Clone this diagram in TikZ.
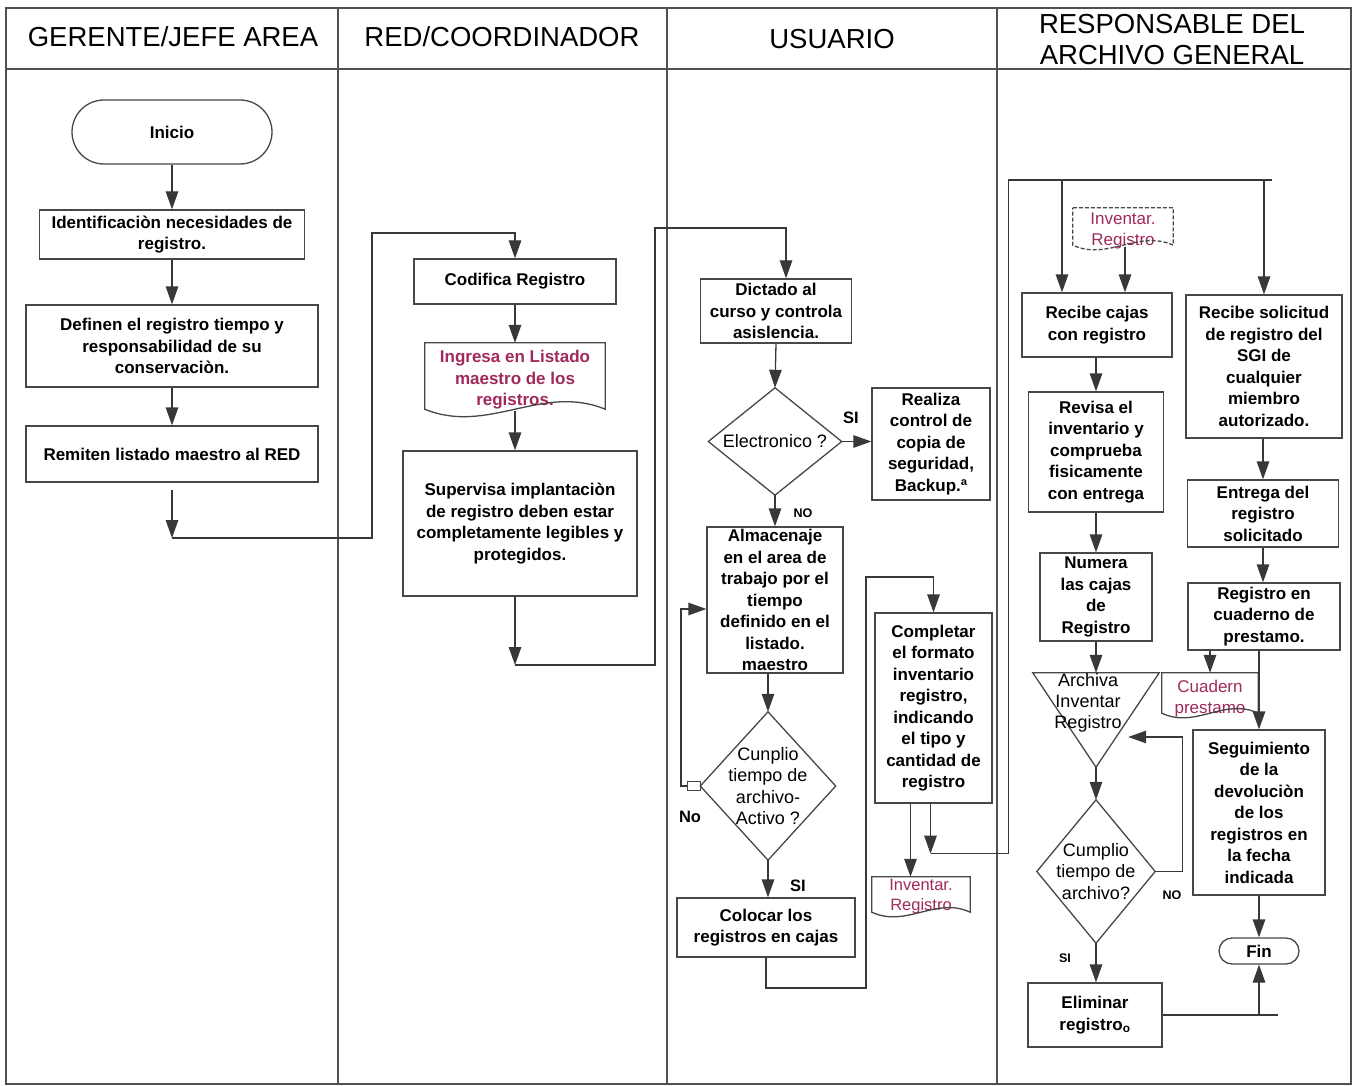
\documentclass[tikz,border=0pt]{standalone}
\usepackage{fontspec}
\setmainfont{Liberation Sans}
\usetikzlibrary{arrows.meta,calc}
\definecolor{docred}{RGB}{160,42,92}
\definecolor{framegray}{RGB}{80,80,80}
\newcommand\flowhead{\fontsize{27.5}{31}\selectfont}
\newcommand\flowbody{\fontsize{17}{21.5}\selectfont\bfseries}
\newcommand\flowdia{\fontsize{18}{21.3}\selectfont}
\newcommand\flowdoc{\fontsize{17}{21}\selectfont}
\newcommand\flowdocsmall{\fontsize{16.5}{20}\selectfont}
\newcommand\flowlbl{\fontsize{16.5}{18}\selectfont\bfseries}
\newcommand\flowlblsm{\fontsize{12.5}{14}\selectfont\bfseries}
% document symbol: flat top, wavy bottom (#3 = lift of the wave, #4 = wave amplitude)
\newcommand\wavedoc[4][]{%
  \draw[boxline,#1] (#2.north west) -- (#2.north east)
    -- ($(#2.south east)+(0,-#3)$)
    .. controls ($(#2.south west)!0.65!(#2.south east)+(0,-#3-#4)$)
           and ($(#2.south west)!0.35!(#2.south east)+(0,-#3+#4)$)
    .. ($(#2.south west)+(0,-#3)$) -- cycle;}
% decision symbol drawn through the four anchors of a node
\newcommand\flowdiamond[1]{%
  \draw[boxline] (#1.north) -- (#1.east) -- (#1.south) -- (#1.west) -- cycle;}
\begin{document}
\begin{tikzpicture}[x=1pt,y=-1pt,
  lane/.style={draw=framegray,line width=1.4pt},
  boxline/.style={draw=black!72,line width=1.3pt},
  flowbox/.style n args={2}{boxline,rectangle,inner sep=0pt,align=center,
    font=\flowbody,minimum width=#1pt,minimum height=#2pt},
  startstop/.style n args={3}{flowbox={#1}{#2},rounded corners=#3pt},
  hollow/.style n args={2}{rectangle,inner sep=0pt,align=center,
    minimum width=#1pt,minimum height=#2pt},
  wire/.style={draw=black!78,line width=1.3pt},
  arr/.style={wire,-{Triangle[length=18pt,width=12.5pt]}},
  lbl/.style={font=\flowlbl,inner sep=0pt},
  lblsm/.style={font=\flowlblsm,inner sep=0pt}]

\fill[white] (0,0) rectangle (1355,1086);
\useasboundingbox (0,0) rectangle (1355,1086);

% swimlanes
\draw[lane] (6,8) rectangle (1351,1084);
\draw[lane] (6,69) -- (1351,69);
\foreach \xx in {338,667,997} \draw[lane] (\xx,8) -- (\xx,1084);

\node[font=\flowhead] (h1) at (173,37) {GERENTE/JEFE AREA};
\node[font=\flowhead] (h2) at (502,37) {RED/COORDINADOR};
\node[font=\flowhead] (h3) at (832,39) {USUARIO};
\node[font=\flowhead,align=center] (h4) at (1172,39.5) {RESPONSABLE DEL\\ARCHIVO GENERAL};

% ---------- GERENTE/JEFE AREA
\node[startstop={200}{64}{32}] (inicio) at (172,132) {Inicio};
\node[flowbox={265}{49}] (ident) at (172,234.5) {Identificaciòn necesidades de\\registro.};
\node[flowbox={292}{82}] (definen) at (172,346) {Definen el registro tiempo y\\responsabilidad de su\\conservaciòn.};
\node[flowbox={292}{56}] (remiten) at (172,454) {Remiten listado maestro al RED};
\coordinate (k1) at (172,538);

% ---------- RED/COORDINADOR
\node[flowbox={202}{45}] (codifica) at (515,281.5) {Codifica Registro};
\node[hollow={180}{74},font=\flowbody,text=docred] (ingresa) at (515,380) {Ingresa en Listado\\maestro de los\\registros.};
\wavedoc{ingresa}{8}{26}
\node[flowbox={234}{145}] (supervisa) at (520,523.5) {Supervisa implantaciòn\\de registro deben estar\\completamente legibles y\\protegidos.};
\coordinate (k2) at (515,665);

% ---------- USUARIO
\node[flowbox={151}{64}] (dictado) at (776,311) {Dictado al\\curso y controla\\asislencia.};
\node[hollow={133}{107},font=\flowdia] (elec) at (775,441.5) {Electronico ?};
\flowdiamond{elec}
\node[flowbox={118}{112}] (realiza) at (931,444) {Realiza\\control de\\copia de\\seguridad,\\Backup.ª};
\node[flowbox={136}{146}] (alm) at (775,600) {Almacenaje\\en el area de\\trabajo por el\\tiempo\\definido en el\\listado.\\maestro};
\node[hollow={135}{148},font=\flowdia] (cump1) at (768,786) {Cunplio\\tiempo de\\archivo-\\Activo ?};
\flowdiamond{cump1}
\node[boxline,rectangle,inner sep=0pt,minimum width=13pt,minimum height=9pt] (knot) at (694,786) {};
\node[flowbox={178}{59}] (colocar) at (766,927.5) {Colocar los\\registros en cajas};
\node[flowbox={117}{190}] (completar) at (933.5,708) {Completar\\el formato\\inventario\\registro,\\indicando\\el tipo y\\cantidad de\\registro};
\node[hollow={98}{40},font=\flowdocsmall,text=docred] (inv1) at (921,897) {Inventar.\\Registro};
\wavedoc{inv1}{5}{16}
\coordinate (loopTop) at (681,609);
\coordinate (k4) at (866,988);
\coordinate (k5) at (866,577);

% ---------- RESPONSABLE DEL ARCHIVO GENERAL
\node[hollow={100}{45},font=\flowdoc,text=docred] (inv2) at (1123,230.5) {Inventar.\\Registro};
\wavedoc[dash pattern=on 4pt off 2pt]{inv2}{8}{16}
\node[flowbox={150}{64}] (recibe) at (1097,325) {Recibe cajas\\con registro};
\node[flowbox={135}{120}] (revisa) at (1096,452) {Revisa el\\inventario y\\comprueba\\fisicamente\\con entrega};
\node[flowbox={112}{88}] (numera) at (1096,597) {Numera\\las cajas\\de\\Registro};
\node[hollow={126}{94}] (arch) at (1096,720) {};
\draw[boxline] (arch.north west) -- (arch.north east) -- (arch.south) -- cycle;
\node[font=\flowdia,align=center,inner sep=0pt] (archtxt) at (1088,703) {Archiva\\Inventar\\Registro};
\node[hollow={118}{143},font=\flowdia] (cump2) at (1096,871.5) {Cumplio\\tiempo de\\archivo?};
\flowdiamond{cump2}
\node[flowbox={134}{64}] (elim) at (1095,1015) {Eliminar\\registro\textsubscript{o}};
\node[flowbox={156}{143}] (solicitud) at (1264,366.5) {Recibe solicitud\\de registro del\\SGI de\\cualquier\\miembro\\autorizado.};
\node[flowbox={151}{67}] (entrega) at (1263,513.5) {Entrega del\\registro\\solicitado};
\node[flowbox={152}{67}] (cuaderno) at (1264,616.5) {Registro en\\cuaderno de\\prestamo.};
\node[hollow={96}{52},font=\flowdoc,text=docred] (cuad) at (1210,699) {Cuadern\\prestamo};
\wavedoc{cuad}{12}{16}
\node[flowbox={132}{165}] (seguim) at (1259,812.5) {Seguimiento\\de la\\devoluciòn\\de los\\registros en\\la fecha\\indicada};
\node[startstop={80}{26}{13}] (fin) at (1259,951) {Fin};

% branch labels
\node[lbl] (siA) at (851,418) {SI};
\node[lblsm] (noA) at (803,513) {NO};
\node[lbl] (noB) at (690,817) {No};
\node[lbl] (siB) at (798,886) {SI};
\node[lblsm] (noC) at (1172,895) {NO};
\node[lblsm] (siC) at (1065,958) {SI};

% ---------- connectors
\draw[arr] (inicio.south) -- (ident.north);
\draw[arr] (ident.south) -- (definen.north);
\draw[arr] (definen.south) -- (remiten.north);
\draw[arr] ($(remiten.south)+(0,7)$) -- (k1);
\draw[arr] (k1) -| (372,233) -| (codifica.north);

\draw[arr] (codifica.south) -- (ingresa.north);
\draw[arr] ($(ingresa.south)+(0,-6)$) -- (ingresa.south |- supervisa.north);
\draw[arr] (supervisa.south -| k2) -- (k2);
\draw[arr] (k2) -| (655,228) -| ($(dictado.north)+(10,0)$);

\draw[arr] (dictado.south) -- (elec.north);
\draw[arr] (elec.east) -- (elec.east -| realiza.west);
\draw[arr] (elec.south) -- (elec.south |- alm.north);
\draw[arr] (alm.south -| cump1.north) -- (cump1.north);
\draw[arr] (knot.west) -| (loopTop) -- (loopTop -| alm.west);
\draw[arr] (cump1.south) -- (cump1.south |- colocar.north);
\draw[arr] (colocar.south) |- (k4) -- (k5) -| (completar.north);

\coordinate (cL) at ($(completar.south)+(-23,0)$);
\coordinate (cR) at ($(completar.south)+(-3,0)$);
\coordinate (k3) at ($(cR)+(0,50)$);
\coordinate (k6) at ($(k3)+(78,0)$);
\coordinate (k7) at (1272,180);
\coordinate (topL) at (1062,180);
\coordinate (topR) at (1264,180);
\draw[arr] (cL) -- (cL |- inv1.north);
\draw[arr] (cR) -- (k3);
\draw[wire] (k3) -- (k6) |- (k7);
\draw[arr] (topL) -- (topL |- recibe.north);
\draw[arr] (topR) -- (topR |- solicitud.north);
\coordinate (i2) at ($(inv2.south)+(2,-6)$);
\draw[arr] (i2) -- (i2 |- recibe.north);

\draw[arr] (recibe.south -| revisa.north) -- (revisa.north);
\draw[arr] (revisa.south) -- (numera.north);
\draw[arr] (numera.south) -- (arch.north);
\draw[arr] (arch.south) -- (cump2.north);
\coordinate (archR) at ($(arch.north east)!0.68!(arch.south)+(12,0)$);
\coordinate (k8) at ($(archR)+(54,0)$);
\draw[arr] (cump2.east) -| (k8) -- (archR);
\draw[arr] (cump2.south) -- (cump2.south |- elim.north);
\draw[wire] (elim.east) -- ++(115,0);
\draw[arr] (elim.east -| fin.south) -- (fin.south);

\draw[arr] (solicitud.south -| entrega.north) -- (entrega.north);
\draw[arr] (entrega.south) -- (entrega.south |- cuaderno.north);
\draw[arr] (cuaderno.south -| cuad.north) -- (cuad.north);
\draw[arr] (cuaderno.south -| seguim.north) -- (seguim.north);
\draw[arr] (seguim.south) -- (fin.north);
\end{tikzpicture}
\end{document}
